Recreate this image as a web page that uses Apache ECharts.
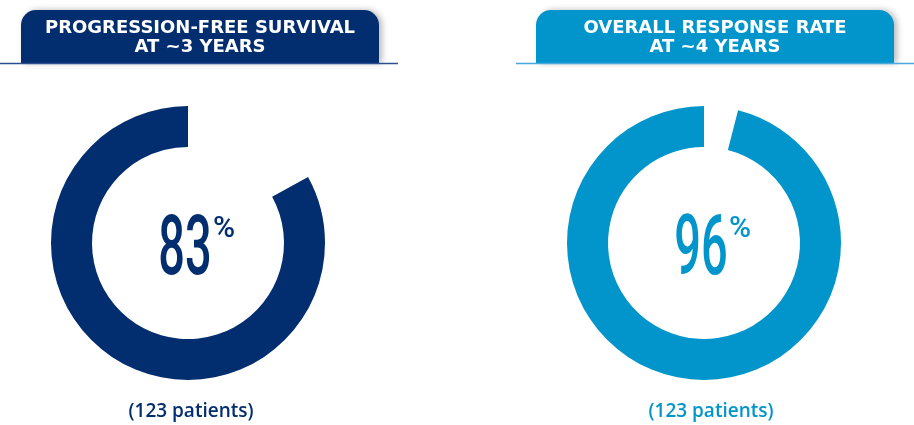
<!DOCTYPE html>
<html>
<head>
<meta charset="utf-8">
<script src="https://cdn.jsdelivr.net/npm/echarts@6/dist/echarts.min.js"></script>
<style>
html,body{margin:0;padding:0;background:#fff;}
#chart{width:914px;height:425px;}
</style>
</head>
<body>
<div id="chart"></div>
<script>
// ---- data ----
const titleLine1 = ['PROGRESSION-FREE SURVIVAL', 'OVERALL RESPONSE RATE'];
const titleLine2 = ['AT ~3 YEARS', 'AT ~4 YEARS'];
const percentValues = [83, 96];
const percentSymbol = '%';
const patientNotes = ['(123 patients)', '(123 patients)'];

// ---- layout / style ----
const colors = ['#022d6e', '#0195cb'];
const lineColors = ['#2d4f8f', '#4aa9dc'];
const centersX = [188, 704];
const centerY = 243;
const boxes = [{x: 21, w: 358}, {x: 536, w: 358}];
const rules = [{x1: 0, x2: 398}, {x1: 516, x2: 914}];

const chart = echarts.init(document.getElementById('chart'), null, {renderer: 'canvas'});

const series = percentValues.map((v, i) => ({
  type: 'pie',
  silent: true,
  center: [centersX[i], centerY],
  radius: [96, 137],
  startAngle: 90,
  clockwise: false,
  label: {show: false},
  labelLine: {show: false},
  emphasis: {disabled: true},
  animation: false,
  data: [
    {value: v, itemStyle: {color: colors[i]}},
    {value: 100 - v, itemStyle: {color: 'rgba(0,0,0,0)'}}
  ]
}));

const graphic = [];
percentValues.forEach((v, i) => {
  const cx = boxes[i].x + boxes[i].w / 2;
  graphic.push({
    type: 'rect', silent: true, z: 10,
    shape: {x: boxes[i].x, y: 10, width: boxes[i].w, height: 53, r: [15, 15, 0, 0]},
    style: {fill: colors[i], shadowBlur: 6, shadowOffsetX: 3, shadowOffsetY: 0, shadowColor: 'rgba(0,0,0,0.28)'}
  });
  graphic.push({
    type: 'line', silent: true, z: 11,
    shape: {x1: rules[i].x1, y1: 63.5, x2: rules[i].x2, y2: 63.5},
    style: {stroke: lineColors[i], lineWidth: 1.5}
  });
  graphic.push({
    type: 'text', silent: true, z: 12,
    x: cx, y: 28.5,
    style: {text: titleLine1[i], fill: '#fff', font: 'bold 18px "DejaVu Sans"', align: 'center', verticalAlign: 'middle'}
  });
  graphic.push({
    type: 'text', silent: true, z: 12,
    x: cx, y: 47.5,
    style: {text: titleLine2[i], fill: '#fff', font: 'bold 18px "DejaVu Sans"', align: 'center', verticalAlign: 'middle'}
  });
  graphic.push({
    type: 'text', silent: true, z: 12,
    x: centersX[i] - 3, y: 253, scaleX: 0.56, scaleY: 1,
    style: {text: String(v), fill: colors[i], font: '500 84px Roboto', align: 'center', verticalAlign: 'middle'}
  });
  graphic.push({
    type: 'text', silent: true, z: 12,
    x: centersX[i] + 25, y: 229,
    style: {text: percentSymbol, fill: colors[i], font: '500 30px Roboto', align: 'left', verticalAlign: 'middle'}
  });
  graphic.push({
    type: 'text', silent: true, z: 12,
    x: centersX[i] + 3 + (i === 1 ? 4 : 0), y: 412,
    style: {text: patientNotes[i], fill: colors[i], font: '600 19px "Open Sans"', align: 'center', verticalAlign: 'middle'}
  });
});

chart.setOption({
  animation: false,
  series: series,
  graphic: graphic
});
</script>
</body>
</html>
